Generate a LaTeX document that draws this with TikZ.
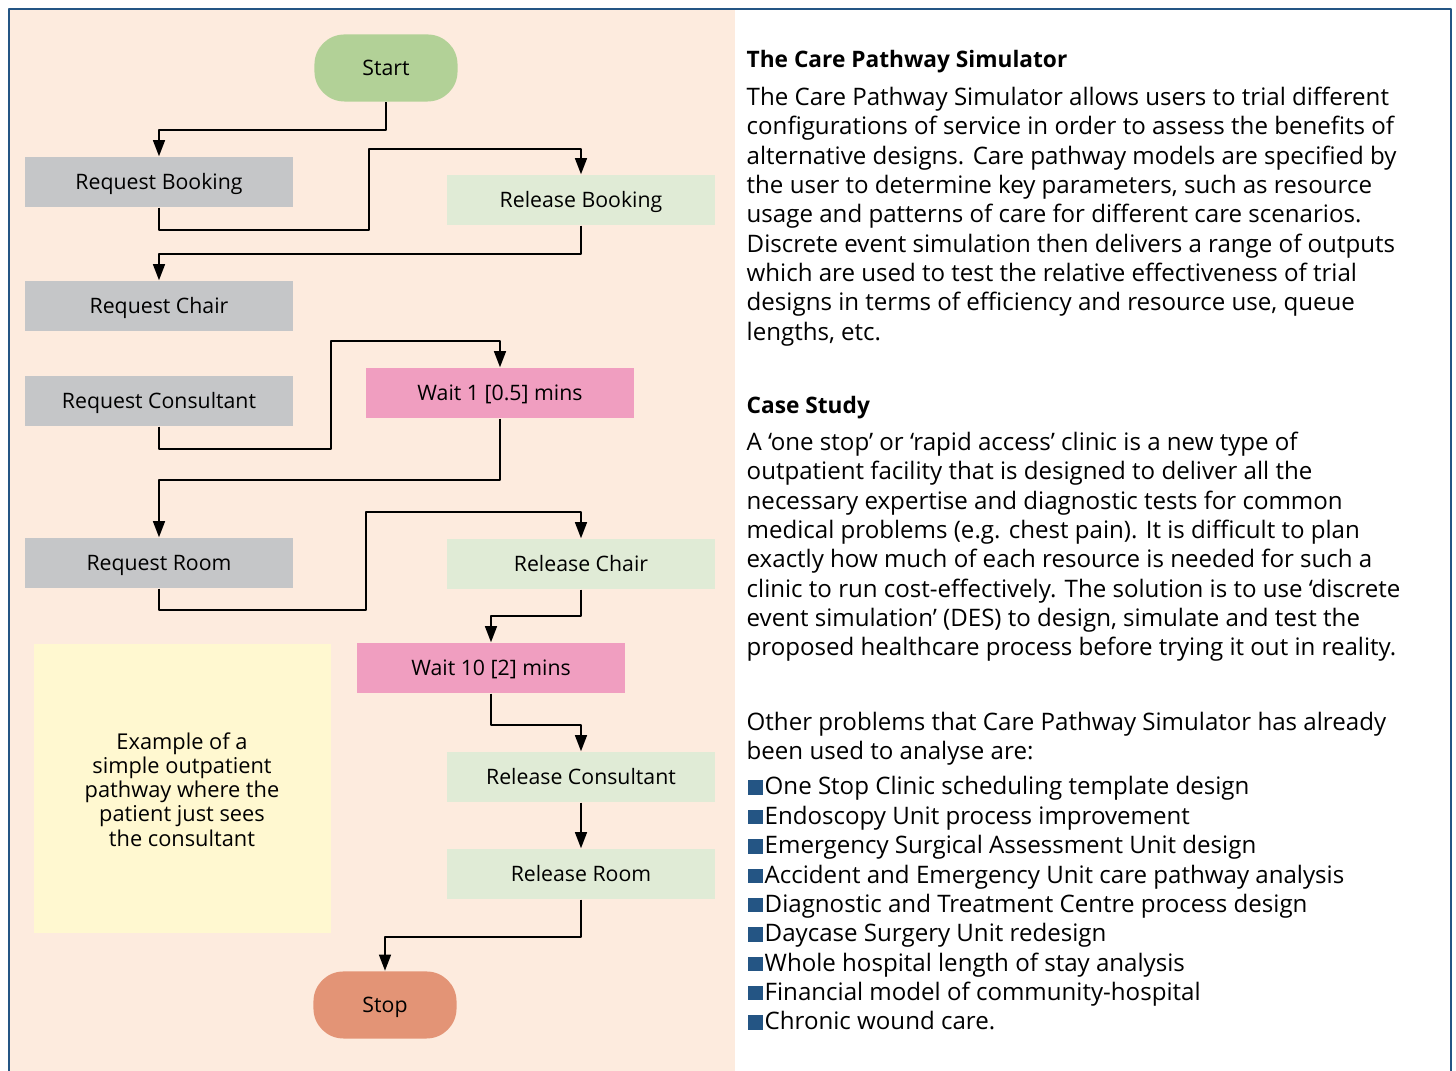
\documentclass[tikz,border=0pt]{standalone}
\usepackage{fontspec}
\setmainfont{Open Sans}
\usetikzlibrary{arrows.meta}
\definecolor{panel}{HTML}{FDEBDE}
\definecolor{frameblue}{HTML}{245584}
\definecolor{reqgray}{HTML}{C5C6C8}
\definecolor{relgreen}{HTML}{E0EBD6}
\definecolor{waitpink}{HTML}{F09EC0}
\definecolor{startgreen}{HTML}{B2D197}
\definecolor{stopred}{HTML}{E39476}
\definecolor{notebg}{HTML}{FFF8D0}
\newcommand{\txtsize}{\fontsize{6.85}{8}\selectfont}
\newcommand{\headsize}{\fontsize{6.45}{8}\selectfont\bfseries}
\newcommand{\boxsize}{\fontsize{6.05}{7}\selectfont}
\begin{document}
\begin{tikzpicture}[x=0.01cm, y=-0.01cm, font=\txtsize, line join=round, >={Triangle[length=4.6pt,width=3.4pt]},
  box/.style={minimum width=2.67cm, minimum height=0.5cm, inner sep=0pt, font=\boxsize, text height=4.3pt, text depth=0pt},
  term/.style={minimum width=1.43cm, minimum height=0.67cm, inner sep=0pt, rounded corners=0.3cm, font=\boxsize, text height=4.3pt, text depth=0pt},
  link/.style={->, line width=0.5pt},
  bodyline/.style={anchor=base west, inner sep=0pt}]
\useasboundingbox (0,0) rectangle (1456,1071);
\clip (0,0) rectangle (1456,1071);
\fill[panel] (10,10) rectangle (735,1080);
\draw[frameblue, line width=0.8pt] (9,9) rectangle (1451,1100);

\node[term, fill=startgreen] (start) at (386,68) {Start};
\node[box, fill=reqgray] (rbook) at (159,182) {Request Booking};
\node[box, fill=relgreen] (relbook) at (581,200) {Release Booking};
\node[box, fill=reqgray] (rchair) at (159,306) {Request Chair};
\node[box, fill=reqgray] (rcons) at (159,401) {Request Consultant};
\node[box, fill=waitpink] (wait1) at (500,393) {Wait 1 [0.5] mins};
\node[box, fill=reqgray] (rroom) at (159,563) {Request Room};
\node[box, fill=relgreen] (relchair) at (581,564) {Release Chair};
\node[box, fill=waitpink] (wait10) at (491,668) {Wait 10 [2] mins};
\node[box, fill=relgreen] (relcons) at (581,777) {Release Consultant};
\node[box, fill=relgreen] (relroom) at (581,874) {Release Room};
\node[term, fill=stopred] (stop) at (385,1005) {Stop};
\node[fill=notebg, minimum width=2.97cm, minimum height=2.89cm] (note) at (182.5,788.5) {};
\node[align=center, font=\fontsize{6.2}{6.9}\selectfont] (notetext) at (182,789.5) {Example of a\\simple outpatient\\pathway where the\\patient just sees\\the consultant};

\draw[link] (start.south) -- ++(0,28) -| (rbook.north);
\draw[link] (rbook.south) |- (369,230) -- (369,149) -| (relbook.north);
\draw[link] (relbook.south) -- ++(0,28) -| (rchair.north);
\draw[link] (rcons.south) |- (331,449) -- (331,341) -| (wait1.north);
\draw[link] (wait1.south) -- ++(0,61) -| (rroom.north);
\draw[link] (rroom.south) |- (366,610) -- (366,512) -| (relchair.north);
\draw[link] (relchair.south) -- ++(0,26) -| (wait10.north);
\draw[link] (wait10.south) -- ++(0,31) -| (relcons.north);
\draw[link] (relcons) -- (relroom);
\draw[link] (relroom.south) -- ++(0,37) -| (stop.north);

\node[bodyline, font=\headsize] (head1) at (746,68) {The Care Pathway Simulator};
\foreach \ln [count=\i from 0] in {
  {The Care Pathway Simulator allows users to trial different},
  {configurations of service in order to assess the benefits of},
  {alternative designs. Care pathway models are specified by},
  {the user to determine key parameters, such as resource},
  {usage and patterns of care for different care scenarios.},
  {Discrete event simulation then delivers a range of outputs},
  {which are used to test the relative effectiveness of trial},
  {designs in terms of efficiency and resource use, queue},
  {lengths, etc.}}
  \node[bodyline] (pa\i) at (746,{105.5+29.35*\i}) {\ln};

\node[bodyline, font=\headsize] (head2) at (746,413.5) {Case Study};
\foreach \ln [count=\i from 0] in {
  {A ‘one stop’ or ‘rapid access’ clinic is a new type of},
  {outpatient facility that is designed to deliver all the},
  {necessary expertise and diagnostic tests for common},
  {medical problems (e.g. chest pain). It is difficult to plan},
  {exactly how much of each resource is needed for such a},
  {clinic to run cost-effectively. The solution is to use ‘discrete},
  {event simulation’ (DES) to design, simulate and test the},
  {proposed healthcare process before trying it out in reality.}}
  \node[bodyline] (pb\i) at (746,{450.5+29.35*\i}) {\ln};

\node[bodyline] (pc0) at (746,730.5) {Other problems that Care Pathway Simulator has already};
\node[bodyline] (pc1) at (746,759.5) {been used to analyse are:};

\foreach \ln [count=\i from 0] in {
  {One Stop Clinic scheduling template design},
  {Endoscopy Unit process improvement},
  {Emergency Surgical Assessment Unit design},
  {Accident and Emergency Unit care pathway analysis},
  {Diagnostic and Treatment Centre process design},
  {Daycase Surgery Unit redesign},
  {Whole hospital length of stay analysis},
  {Financial model of community-hospital},
  {Chronic wound care.}} {
  \fill[frameblue] (748,{780.5+29.35*\i}) rectangle (762.5,{795+29.35*\i});
  \node[bodyline] (bul\i) at (764,{795+29.35*\i}) {\ln};
}
\end{tikzpicture}
\end{document}
